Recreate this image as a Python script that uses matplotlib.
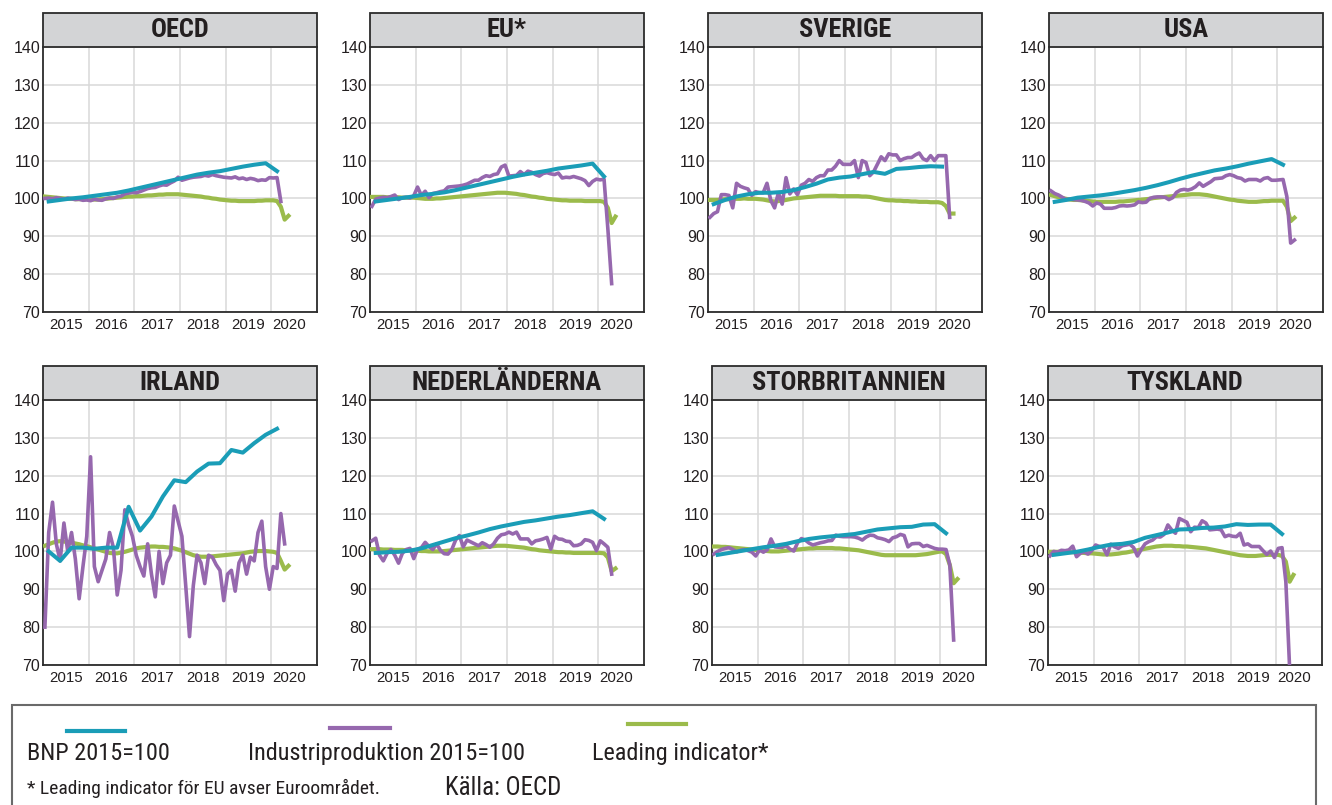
import numpy as np
import matplotlib.pyplot as plt
from matplotlib import font_manager
from matplotlib.patches import Rectangle
from matplotlib.lines import Line2D

# smal font om den finns, annars vanlig
namn = set(f.name for f in font_manager.fontManager.ttflist)
smal = ["Liberation Sans", "DejaVu Sans"]
skala = 0.88
for kandidat in ["Liberation Sans Narrow", "Arial Narrow", "Roboto Condensed", "Open Sans Condensed"]:
    if kandidat in namn:
        smal = [kandidat, "DejaVu Sans"]
        skala = 1.0
        break
plt.rcParams["font.family"] = ["Liberation Sans", "DejaVu Sans"]

titlar = ["OECD", "EU*", "SVERIGE", "USA", "IRLAND", "NEDERLÄNDERNA", "STORBRITANNIEN", "TYSKLAND"]
ar = ["2015", "2016", "2017", "2018", "2019", "2020"]
y_ticks = [70, 80, 90, 100, 110, 120, 130, 140]
serienamn = ["BNP 2015=100", "Industriproduktion 2015=100", "Leading indicator*"]

# BNP kvartal Q1 2015 - Q1 2020
oecd_bnp = [99.2, 99.6, 100.0, 100.3, 100.7, 101.1, 101.5, 102.1, 102.8, 103.5, 104.2, 104.9, 105.6, 106.3, 106.8, 107.2, 107.8, 108.4, 108.9, 109.3, 107.2]
eu_bnp = [99.2, 99.6, 100.0, 100.4, 100.9, 101.2, 101.6, 102.2, 102.9, 103.6, 104.3, 105.0, 105.7, 106.3, 106.8, 107.3, 107.9, 108.3, 108.7, 109.2, 105.8]
se_bnp = [98.5, 99.6, 100.5, 101.1, 101.5, 101.5, 101.7, 102.2, 103.0, 103.9, 105.0, 105.5, 105.8, 106.4, 107.0, 106.5, 107.8, 108.0, 108.3, 108.5, 108.4]
usa_bnp = [99.1, 99.6, 100.2, 100.5, 100.8, 101.2, 101.7, 102.2, 102.8, 103.5, 104.3, 105.2, 106.0, 106.7, 107.4, 107.9, 108.5, 109.2, 109.8, 110.4, 108.9]
ie_bnp = [100.0, 97.5, 101.0, 101.0, 100.7, 101.0, 101.0, 111.8, 105.5, 109.2, 114.5, 118.8, 118.3, 121.1, 123.2, 123.3, 126.8, 126.1, 128.6, 130.8, 132.4]
nl_bnp = [99.6, 99.8, 99.9, 100.2, 100.8, 101.7, 102.6, 103.5, 104.2, 105.0, 105.9, 106.6, 107.2, 107.8, 108.2, 108.7, 109.2, 109.6, 110.1, 110.6, 108.6]
uk_bnp = [99.1, 99.6, 100.1, 100.6, 101.1, 101.5, 102.0, 102.7, 103.3, 103.7, 104.0, 104.3, 104.6, 105.2, 105.8, 106.1, 106.4, 106.5, 107.1, 107.2, 104.8]
de_bnp = [99.1, 99.5, 99.9, 100.5, 101.2, 101.8, 102.0, 102.5, 103.6, 104.3, 105.0, 105.8, 105.9, 106.2, 106.3, 106.6, 107.2, 107.0, 107.1, 107.1, 104.6]

# industriproduktion per manad fran jan 2015
oecd_ip = [100.0, 100.1, 99.9, 100.2, 100.0, 99.8, 100.1, 99.9, 99.7, 99.8, 99.5, 99.6,
           99.4, 99.8, 99.6, 99.5, 99.9, 100.1, 100.0, 100.4, 100.6, 101.2, 101.4, 101.6,
           101.5, 101.8, 102.2, 102.6, 102.8, 102.9, 103.3, 103.6, 103.5, 104.1, 104.6, 105.6,
           104.8, 105.1, 105.4, 105.6, 105.7, 105.8, 106.1, 105.9, 106.3, 106.0, 105.8, 105.6,
           105.5, 105.4, 105.7, 105.2, 105.4, 105.0, 105.3, 105.1, 104.7, 104.9, 104.8, 105.5,
           105.4, 105.5, 99.2]
eu_ip = [97.9, 99.8, 100.1, 100.3, 100.2, 100.5, 100.9, 99.7, 100.2, 100.3, 100.1, 100.7,
         103.0, 100.8, 101.9, 100.2, 101.3, 101.5, 101.8, 102.0, 103.0, 103.1, 103.2, 103.3,
         103.5, 103.8, 104.3, 104.8, 104.8, 105.5, 106.0, 105.8, 106.3, 106.5, 108.3, 108.8,
         105.9, 106.0, 106.1, 107.1, 106.3, 107.2, 106.9, 106.3, 105.9, 106.6, 106.8, 106.5,
         106.3, 106.7, 105.4, 105.6, 105.5, 105.8, 105.5, 105.2, 104.7, 103.4, 104.5, 105.1,
         104.9, 105.1, 92.0, 77.5]
se_ip = [95.0, 96.0, 96.5, 101.0, 101.0, 100.8, 97.5, 104.0, 103.2, 102.8, 102.5, 100.8,
         101.8, 101.5, 101.5, 104.0, 99.5, 97.5, 101.5, 98.5, 105.5, 101.2, 102.5, 101.0,
         103.5, 104.0, 105.0, 104.5, 105.5, 106.0, 106.0, 107.5, 107.5, 108.5, 110.0, 109.0,
         109.0, 109.0, 110.0, 105.5, 110.0, 109.5, 106.0, 107.0, 109.0, 111.0, 110.0, 111.8,
         111.5, 111.5, 110.0, 110.5, 110.8, 110.8, 111.5, 112.0, 110.5, 110.0, 111.3, 110.0,
         111.3, 111.3, 111.3, 95.0]
usa_ip = [102.0, 101.3, 100.9, 100.3, 99.7, 99.8, 99.7, 99.6, 99.5, 99.2, 98.8, 98.0,
          98.8, 98.5, 97.4, 97.4, 97.4, 97.6, 98.0, 98.1, 98.0, 98.1, 98.3, 99.1,
          98.9, 99.0, 100.0, 100.3, 100.4, 100.4, 100.3, 99.7, 100.2, 101.6, 102.2, 102.4,
          102.2, 102.5, 103.1, 104.1, 103.2, 103.8, 104.4, 105.2, 105.3, 105.4, 106.0, 106.3,
          106.0, 105.5, 105.3, 104.6, 105.0, 105.0, 105.0, 104.6, 105.3, 105.5, 104.8, 104.8,
          104.9, 105.0, 100.5, 88.2, 89.0]
ie_ip = [80.0, 105.0, 113.0, 102.0, 97.5, 107.5, 100.0, 105.0, 98.0, 87.5, 96.0, 104.0,
         125.0, 96.0, 92.0, 95.0, 98.0, 105.0, 101.0, 88.5, 95.0, 111.0, 107.0, 104.0,
         99.0, 96.0, 93.5, 102.0, 94.0, 88.0, 100.0, 91.5, 97.0, 99.0, 112.0, 108.0,
         104.0, 91.0, 77.5, 91.0, 99.0, 97.0, 91.5, 99.0, 98.5, 96.5, 95.0, 87.0,
         94.0, 95.0, 89.5, 97.0, 99.0, 94.0, 98.5, 97.5, 105.0, 108.0, 96.0, 90.0,
         96.0, 95.5, 110.0, 102.0]
nl_ip = [102.8, 103.5, 99.0, 97.5, 99.5, 100.5, 99.0, 96.9, 99.5, 100.5, 100.8, 98.1,
         100.6, 101.0, 102.4, 101.3, 100.5, 102.0, 100.3, 99.4, 99.3, 100.5, 103.0, 104.2,
         101.2, 103.0, 102.5, 102.0, 101.5, 102.3, 101.8, 101.1, 102.0, 103.5, 104.4, 104.6,
         105.1, 104.6, 105.1, 103.3, 103.3, 103.3, 102.0, 102.8, 103.0, 103.3, 103.7, 100.6,
         104.0, 103.3, 103.2, 102.7, 102.6, 101.5, 101.6, 102.0, 103.1, 102.9, 102.4, 100.2,
         102.8, 102.0, 101.1, 94.0]
uk_ip = [99.3, 100.0, 100.5, 100.8, 101.0, 100.5, 99.9, 100.3, 100.5, 100.2, 99.8, 98.8,
         100.4, 99.8, 100.4, 103.3, 101.2, 101.1, 101.1, 101.5, 100.6, 100.1, 102.3, 103.4,
         103.0, 102.2, 101.7, 102.0, 102.3, 102.5, 102.8, 102.9, 104.3, 104.0, 103.9, 103.9,
         103.9, 103.8, 103.5, 103.0, 103.8, 104.3, 104.2, 103.6, 103.4, 103.1, 102.6, 103.6,
         103.9, 104.5, 104.2, 101.2, 102.0, 102.1, 102.1, 101.3, 101.6, 101.2, 100.8, 100.6,
         100.6, 100.5, 96.4, 76.6]
de_ip = [98.8, 100.0, 99.8, 100.3, 100.2, 100.4, 101.4, 98.6, 99.5, 99.9, 99.3, 100.2,
         101.7, 101.3, 101.1, 99.1, 101.9, 101.2, 100.8, 101.5, 101.7, 101.9, 101.0, 98.8,
         100.5, 102.0, 102.6, 103.0, 103.9, 103.8, 104.5, 107.0, 105.7, 104.8, 108.7, 108.2,
         107.7, 105.2, 106.4, 106.3, 108.1, 107.5, 105.7, 105.8, 105.9, 105.7, 103.9, 104.3,
         104.0, 103.9, 104.8, 101.7, 102.0, 101.3, 101.3, 101.3, 100.2, 99.2, 100.1, 98.4,
         100.8, 101.0, 92.0, 69.0]

# leading indicator per manad fran jan 2015
oecd_li = [100.5, 100.4, 100.3, 100.2, 100.1, 100.0, 99.9, 99.9, 99.8, 99.8, 99.8, 99.8,
           99.7, 99.7, 99.7, 99.8, 99.9, 100.0, 100.1, 100.2, 100.3, 100.4, 100.5, 100.5,
           100.6, 100.6, 100.7, 100.8, 100.8, 100.9, 101.0, 101.0, 101.1, 101.1, 101.1, 101.1,
           101.0, 100.9, 100.8, 100.7, 100.6, 100.5, 100.3, 100.2, 100.0, 99.9, 99.7, 99.6,
           99.5, 99.4, 99.4, 99.3, 99.3, 99.3, 99.3, 99.3, 99.4, 99.4, 99.5, 99.5,
           99.5, 99.3, 97.8, 94.4, 95.4]
eu_li = [100.4, 100.4, 100.4, 100.4, 100.3, 100.3, 100.3, 100.3, 100.2, 100.2, 100.2, 100.2,
         100.1, 100.0, 99.9, 99.9, 99.9, 100.0, 100.0, 100.1, 100.2, 100.3, 100.4, 100.5,
         100.6, 100.7, 100.8, 100.9, 101.0, 101.1, 101.2, 101.3, 101.4, 101.5, 101.5, 101.5,
         101.4, 101.3, 101.2, 101.0, 100.9, 100.7, 100.5, 100.4, 100.2, 100.1, 99.9, 99.8,
         99.7, 99.6, 99.5, 99.5, 99.4, 99.4, 99.4, 99.4, 99.3, 99.3, 99.3, 99.3,
         99.3, 99.1, 97.5, 93.5, 95.2]
se_li = [99.6, 99.6, 99.6, 99.7, 99.8, 99.8, 99.9, 99.9, 99.9, 100.0, 99.9, 99.9,
         99.9, 99.8, 99.7, 99.5, 99.3, 99.2, 99.3, 99.4, 99.6, 99.8, 100.0, 100.1,
         100.2, 100.3, 100.4, 100.5, 100.6, 100.7, 100.7, 100.7, 100.7, 100.7, 100.6, 100.6,
         100.6, 100.6, 100.6, 100.6, 100.5, 100.5, 100.4, 100.2, 100.0, 99.8, 99.6, 99.5,
         99.5, 99.4, 99.4, 99.3, 99.3, 99.2, 99.2, 99.1, 99.1, 99.1, 99.0, 99.0,
         99.0, 98.8, 98.0, 96.0, 96.0]
usa_li = [100.9, 100.6, 100.3, 100.1, 99.9, 99.7, 99.6, 99.6, 99.5, 99.4, 99.3, 99.2,
          99.1, 99.1, 99.1, 99.1, 99.1, 99.1, 99.2, 99.2, 99.3, 99.4, 99.5, 99.6,
          99.7, 99.8, 99.9, 100.1, 100.2, 100.3, 100.4, 100.5, 100.6, 100.7, 100.8, 100.9,
          101.0, 101.1, 101.1, 101.1, 101.0, 100.9, 100.7, 100.5, 100.3, 100.1, 99.9, 99.7,
          99.6, 99.4, 99.3, 99.2, 99.1, 99.1, 99.1, 99.2, 99.3, 99.3, 99.4, 99.4,
          99.4, 99.4, 97.8, 94.0, 94.9]
ie_li = [101.5, 101.9, 102.3, 102.6, 102.7, 102.6, 102.5, 102.3, 102.1, 101.9, 101.6, 101.4,
         101.1, 100.8, 100.5, 100.2, 99.9, 99.6, 99.5, 99.5, 99.7, 99.9, 100.2, 100.5,
         100.8, 101.0, 101.1, 101.2, 101.3, 101.3, 101.2, 101.2, 101.1, 101.0, 100.8, 100.5,
         100.2, 99.8, 99.4, 99.0, 98.8, 98.6, 98.6, 98.6, 98.7, 98.8, 98.9, 99.0,
         99.1, 99.2, 99.3, 99.4, 99.5, 99.7, 99.9, 100.0, 100.1, 100.1, 100.1, 100.0,
         99.9, 99.6, 97.5, 95.2, 96.2]
nl_li = [100.6, 100.6, 100.6, 100.5, 100.5, 100.5, 100.4, 100.4, 100.4, 100.3, 100.3, 100.2,
         100.2, 100.1, 100.1, 100.0, 100.0, 100.0, 100.0, 100.1, 100.2, 100.3, 100.4, 100.5,
         100.6, 100.7, 100.8, 100.9, 101.0, 101.1, 101.2, 101.3, 101.4, 101.5, 101.5, 101.5,
         101.4, 101.3, 101.2, 101.1, 101.0, 100.8, 100.6, 100.5, 100.3, 100.2, 100.1, 100.0,
         99.9, 99.8, 99.8, 99.7, 99.7, 99.6, 99.6, 99.6, 99.6, 99.6, 99.6, 99.6,
         99.6, 99.5, 98.4, 94.8, 95.5]
uk_li = [101.3, 101.3, 101.2, 101.2, 101.1, 101.0, 100.9, 100.8, 100.7, 100.6, 100.5, 100.4,
         100.3, 100.2, 100.1, 100.0, 100.0, 100.0, 100.1, 100.2, 100.3, 100.4, 100.5, 100.6,
         100.7, 100.8, 100.8, 100.9, 100.9, 100.9, 100.9, 100.9, 100.8, 100.8, 100.7, 100.6,
         100.5, 100.4, 100.3, 100.1, 99.9, 99.7, 99.5, 99.3, 99.1, 99.0, 99.0, 99.0,
         99.0, 99.0, 99.0, 99.0, 99.0, 99.0, 99.1, 99.2, 99.3, 99.5, 99.7, 99.9,
         100.0, 99.3, 96.4, 91.6, 92.7]
de_li = [99.9, 99.9, 99.9, 99.9, 99.9, 99.8, 99.8, 99.8, 99.7, 99.6, 99.5, 99.5,
         99.4, 99.3, 99.2, 99.2, 99.2, 99.3, 99.4, 99.6, 99.7, 99.9, 100.1, 100.3,
         100.5, 100.7, 100.9, 101.1, 101.3, 101.4, 101.5, 101.5, 101.5, 101.4, 101.4, 101.3,
         101.3, 101.2, 101.1, 101.0, 100.9, 100.8, 100.6, 100.4, 100.2, 100.0, 99.8, 99.6,
         99.4, 99.2, 99.0, 98.9, 98.8, 98.8, 98.8, 98.9, 99.0, 99.1, 99.1, 99.1,
         99.1, 98.8, 97.3, 92.0, 93.8]

data = {
    "OECD": (oecd_bnp, oecd_ip, oecd_li),
    "EU*": (eu_bnp, eu_ip, eu_li),
    "SVERIGE": (se_bnp, se_ip, se_li),
    "USA": (usa_bnp, usa_ip, usa_li),
    "IRLAND": (ie_bnp, ie_ip, ie_li),
    "NEDERLÄNDERNA": (nl_bnp, nl_ip, nl_li),
    "STORBRITANNIEN": (uk_bnp, uk_ip, uk_li),
    "TYSKLAND": (de_bnp, de_ip, de_li),
}

bla = "#1a9db7"
lila = "#9668ae"
gron = "#9bbb4b"

W, H = 1332, 805
fig = plt.figure(figsize=(W / 100, H / 100), dpi=100)

# placering av diagrammen i pixlar (vanster, topp)
vanster = [43, 370, 708, 1049, 43, 370, 712, 1048]
topp = [47, 47, 47, 47, 400, 400, 400, 400]
bredd, hojd = 274, 265
titelhojd = 34

for i, t in enumerate(titlar):
    ax = fig.add_axes([vanster[i] / W, 1 - (topp[i] + hojd) / H, bredd / W, hojd / H])
    bnp, ip, li = data[t]
    x_kv = 2015.125 + 0.25 * np.arange(len(bnp))
    x_ip = 2015 + (np.arange(len(ip)) + 0.5) / 12
    x_li = 2015 + (np.arange(len(li)) + 0.5) / 12
    ax.plot(x_li, li, color=gron, lw=3.0, zorder=3)
    ax.plot(x_ip, ip, color=lila, lw=2.6, zorder=4)
    ax.plot(x_kv, bnp, color=bla, lw=2.9, zorder=5)
    ax.set_xlim(2015, 2021)
    ax.set_ylim(70, 140)
    ax.set_yticks(y_ticks)
    ax.set_xticks([2016, 2017, 2018, 2019, 2020])
    ax.set_xticklabels([])
    ax.set_xticks([2015.5, 2016.5, 2017.5, 2018.5, 2019.5, 2020.4], minor=True)
    ax.set_xticklabels(ar, minor=True)
    ax.tick_params(which="both", length=0, colors="#231f20")
    ax.tick_params(axis="y", labelsize=11.5, pad=2)
    ax.tick_params(axis="x", which="minor", labelsize=10.8, pad=4)
    ax.grid(True, which="major", color="#d9d9d9", lw=1.1)
    ax.set_axisbelow(True)
    for s in ["left", "right", "bottom"]:
        ax.spines[s].set_color("#2b2b2b")
        ax.spines[s].set_linewidth(1.3)
    ax.spines["top"].set_visible(False)
    # gra titelruta
    ax.add_patch(Rectangle((0, 1), 1, titelhojd / hojd, transform=ax.transAxes,
                           facecolor="#d3d4d6", edgecolor="#2b2b2b", lw=1.3, clip_on=False))
    ax.text(0.5, 1 + titelhojd / hojd / 2, t, transform=ax.transAxes, ha="center", va="center",
            fontsize=19 * skala, fontweight="bold", color="#231f20", family=smal)


def fx(p):
    return p / W


def fy(p):
    return 1 - p / H


# teckenforklaring
fig.add_artist(Rectangle((fx(12), fy(830)), fx(1316) - fx(12), (830 - 705) / H,
                         facecolor="none", edgecolor="#6a6a6a", lw=1.5))
linjer = [(67, 125, 731, bla), (330, 390, 728, lila), (628, 686, 724, gron)]
for x0, x1, yy, c in linjer:
    fig.add_artist(Line2D([fx(x0), fx(x1)], [fy(yy), fy(yy)], color=c, lw=3))
for x0, s in zip([27, 248, 592], serienamn):
    fig.text(fx(x0), fy(753), s, ha="left", va="center", fontsize=17.5 * skala,
             color="#231f20", family=smal)
fig.text(fx(27), fy(788), "* Leading indicator för EU avser Euroområdet.", ha="left", va="center",
         fontsize=14 * skala, color="#231f20", family=smal)
fig.text(fx(445), fy(788), "Källa: OECD", ha="left", va="center", fontsize=18 * skala,
         color="#231f20", family=smal)

fig.savefig("out.png", dpi=100)
